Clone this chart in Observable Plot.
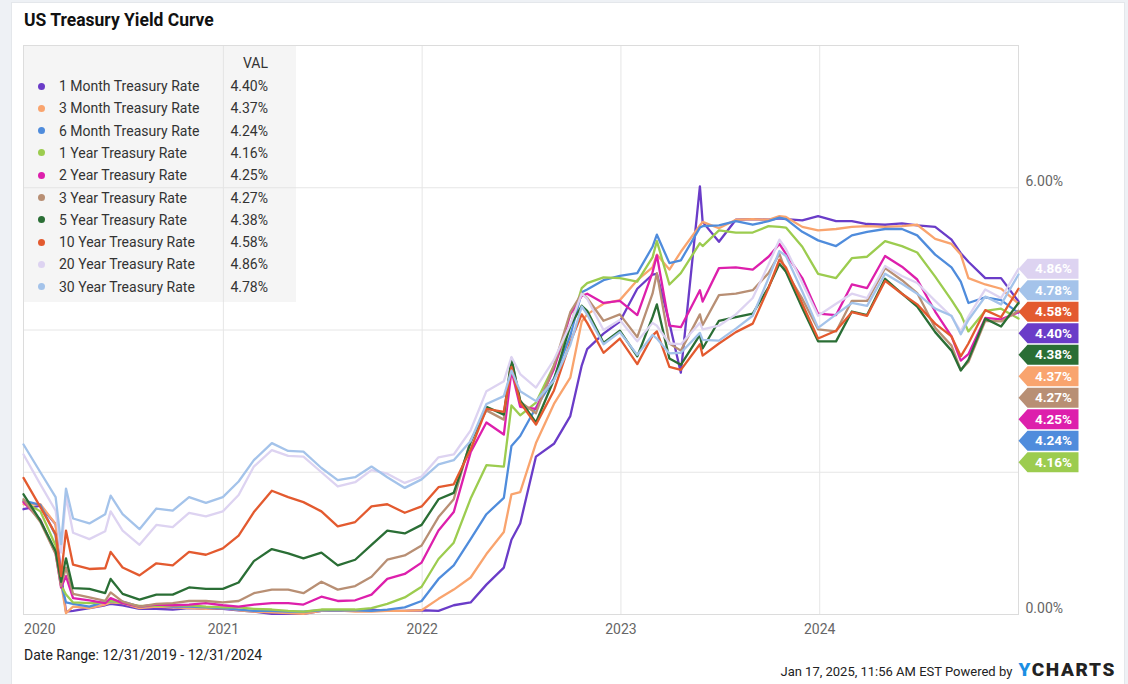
<!DOCTYPE html>
<html>
<head>
<meta charset="utf-8">
<script src="https://cdn.jsdelivr.net/npm/d3@7"></script>
<script src="https://cdn.jsdelivr.net/npm/@observablehq/plot@0.6"></script>
<style>
  html, body { margin: 0; padding: 0; }
  body { width: 1128px; height: 684px; background: #eef1f5; position: relative; overflow: hidden; font-family: Roboto, "Noto Sans", sans-serif; }
  #card { position: absolute; left: 11px; top: 2px; width: 1112px; height: 700px; background: #fff; border: 1px solid #e4e7eb; }
  #title { position: absolute; left: 24px; top: 10px; font-size: 17.5px; font-weight: 700; color: #111; }
  #chart { position: absolute; left: 0; top: 0; }
  #legend { position: absolute; left: 23px; top: 45px; width: 273px; height: 257px; background: rgba(225,225,225,0.32); font-size: 14px; color: #333; }
  .lrow { position: absolute; left: 0; width: 273px; height: 20px; line-height: 20px; }
  .ldot { position: absolute; left: 14.5px; top: 6.5px; width: 7px; height: 7px; border-radius: 50%; }
  .lname { position: absolute; left: 36px; }
  .lval { position: absolute; right: 28px; }
  #range { position: absolute; left: 24px; top: 647px; font-size: 14px; color: #222; }
  #stamp { position: absolute; right: 12px; top: 658px; font-size: 13px; color: #222; white-space: nowrap; }
  #logo { font-weight: 900; font-size: 19px; letter-spacing: 1.6px; color: #222; margin-left: 3px; }
  #logo span { color: #1c8fe3; }
</style>
</head>
<body>
<div id="card"></div>
<div id="title">US Treasury Yield Curve</div>
<div id="chart"></div>
<div id="legend"></div>
<div id="range">Date Range: 12/31/2019 - 12/31/2024</div>
<div id="stamp">Jan 17, 2025, 11:56 AM EST Powered by <span id="logo"><span>Y</span>CHARTS</span></div>
<script>
// ---------- data ----------
const dates = [
  "2019-12-31","2020-01-31","2020-02-28","2020-03-09","2020-03-18","2020-03-31","2020-04-30","2020-05-29","2020-06-08","2020-06-30","2020-07-31","2020-08-31","2020-09-30","2020-10-30","2020-11-30","2020-12-31",
  "2021-01-29","2021-02-26","2021-03-31","2021-04-30","2021-05-28","2021-06-30","2021-07-30","2021-08-31","2021-09-30","2021-10-29","2021-11-30","2021-12-31",
  "2022-01-31","2022-02-28","2022-03-31","2022-04-29","2022-05-31","2022-06-14","2022-06-30","2022-07-29","2022-08-31","2022-09-30","2022-10-21","2022-10-31","2022-11-30","2022-12-30",
  "2023-01-31","2023-02-28","2023-03-08","2023-03-31","2023-04-21","2023-05-26","2023-05-31","2023-06-30","2023-07-31","2023-08-31","2023-09-29","2023-10-19","2023-10-31","2023-11-30","2023-12-29",
  "2024-01-31","2024-02-29","2024-03-28","2024-04-30","2024-05-31","2024-06-28","2024-07-31","2024-08-30","2024-09-16","2024-09-30","2024-10-31","2024-11-29","2024-12-31"
];

const seriesNames = ["1 Month Treasury Rate","3 Month Treasury Rate","6 Month Treasury Rate","1 Year Treasury Rate","2 Year Treasury Rate","3 Year Treasury Rate","5 Year Treasury Rate","10 Year Treasury Rate","20 Year Treasury Rate","30 Year Treasury Rate"];
const seriesColors = ["#6a3cc8","#f9a46e","#4f8cdc","#9ccc4f","#dd1fac","#b88f74","#2a6e35","#e35a2f","#ddd3f1","#a4c3ea"];

const rate1M = [1.48,1.53,1.27,0.57,0.04,0.05,0.09,0.13,0.15,0.13,0.08,0.08,0.07,0.09,0.08,0.08,
  0.06,0.04,0.01,0.01,0.01,0.05,0.05,0.05,0.07,0.05,0.05,0.06,
  0.05,0.13,0.17,0.42,0.66,1.05,1.28,2.22,2.40,2.79,3.50,3.73,3.95,4.12,
  4.58,4.78,4.79,4.10,3.40,6.02,5.52,5.24,5.55,5.56,5.55,5.57,5.56,5.54,5.60,
  5.53,5.53,5.49,5.48,5.50,5.47,5.45,5.27,5.08,4.96,4.73,4.73,4.40];
const rate3M = [1.55,1.55,1.27,0.45,0.02,0.11,0.09,0.14,0.17,0.16,0.09,0.11,0.10,0.09,0.08,0.09,
  0.06,0.04,0.03,0.02,0.01,0.05,0.06,0.04,0.04,0.05,0.05,0.06,
  0.22,0.35,0.52,0.85,1.16,1.69,1.72,2.41,2.96,3.33,4.12,4.22,4.37,4.42,
  4.70,4.88,5.06,4.85,5.10,5.47,5.52,5.43,5.55,5.56,5.55,5.60,5.59,5.45,5.40,
  5.42,5.45,5.46,5.45,5.46,5.48,5.28,5.21,5.06,4.73,4.64,4.58,4.37];
const rate6M = [1.60,1.54,1.11,0.43,0.17,0.15,0.11,0.18,0.19,0.18,0.11,0.13,0.11,0.11,0.10,0.09,
  0.07,0.05,0.05,0.04,0.04,0.06,0.06,0.06,0.05,0.07,0.10,0.19,
  0.50,0.69,1.06,1.41,1.64,2.37,2.51,2.91,3.32,3.92,4.53,4.57,4.70,4.76,
  4.80,5.17,5.34,4.94,4.98,5.44,5.46,5.47,5.53,5.48,5.53,5.58,5.56,5.38,5.26,
  5.18,5.33,5.38,5.42,5.42,5.33,5.06,4.88,4.68,4.38,4.46,4.42,4.24];
const rate1Y = [1.59,1.45,0.97,0.41,0.28,0.17,0.16,0.17,0.19,0.16,0.12,0.12,0.12,0.13,0.11,0.10,
  0.10,0.08,0.07,0.05,0.04,0.07,0.07,0.07,0.09,0.15,0.24,0.39,
  0.78,1.01,1.63,2.10,2.08,2.94,2.80,2.98,3.50,4.05,4.59,4.66,4.74,4.73,
  4.68,5.02,5.25,4.64,4.80,5.22,5.18,5.40,5.37,5.37,5.46,5.45,5.44,5.17,4.79,
  4.73,5.01,5.03,5.25,5.18,5.09,4.75,4.42,4.22,3.98,4.27,4.30,4.16];
const rate2Y = [1.58,1.33,0.86,0.38,0.54,0.23,0.20,0.16,0.23,0.16,0.11,0.14,0.13,0.14,0.16,0.13,
  0.11,0.14,0.16,0.16,0.14,0.25,0.19,0.20,0.28,0.50,0.57,0.73,
  1.18,1.44,2.28,2.70,2.53,3.43,2.92,2.89,3.45,4.22,4.48,4.51,4.38,4.41,
  4.21,4.81,5.05,4.06,4.04,4.56,4.40,4.87,4.88,4.85,5.03,5.21,5.07,4.73,4.23,
  4.21,4.64,4.59,5.04,4.89,4.71,4.26,3.91,3.57,3.66,4.17,4.15,4.25];
const rate3Y = [1.62,1.30,0.85,0.40,0.66,0.29,0.24,0.19,0.31,0.18,0.11,0.15,0.16,0.19,0.19,0.17,
  0.19,0.30,0.35,0.35,0.30,0.46,0.35,0.40,0.53,0.77,0.83,0.97,
  1.37,1.62,2.45,2.87,2.74,3.59,2.99,2.83,3.50,4.25,4.51,4.45,4.13,4.22,
  3.90,4.51,4.80,3.81,3.71,4.22,4.07,4.49,4.51,4.56,4.80,5.07,4.82,4.44,4.01,
  3.98,4.41,4.41,4.87,4.70,4.52,4.03,3.78,3.44,3.55,4.13,4.12,4.27];
const rate5Y = [1.69,1.32,0.89,0.46,0.79,0.37,0.36,0.30,0.50,0.29,0.21,0.28,0.28,0.38,0.36,0.36,
  0.45,0.75,0.92,0.86,0.79,0.87,0.69,0.77,0.98,1.18,1.14,1.26,
  1.62,1.71,2.42,2.92,2.81,3.60,3.01,2.70,3.30,4.06,4.34,4.27,3.82,3.99,
  3.63,4.18,4.36,3.60,3.51,3.93,3.74,4.13,4.18,4.23,4.60,4.93,4.82,4.31,3.84,
  3.84,4.26,4.21,4.72,4.51,4.33,3.97,3.71,3.43,3.58,4.16,4.05,4.38];
const rate10Y = [1.92,1.51,1.13,0.54,1.18,0.70,0.64,0.65,0.88,0.66,0.55,0.72,0.69,0.88,0.84,0.93,
  1.11,1.44,1.74,1.65,1.58,1.45,1.24,1.30,1.52,1.55,1.43,1.52,
  1.79,1.83,2.32,2.89,2.85,3.48,2.98,2.67,3.15,3.83,4.22,4.10,3.68,3.88,
  3.52,3.92,3.98,3.48,3.44,3.80,3.64,3.81,3.97,4.09,4.59,4.99,4.88,4.37,3.88,
  3.99,4.25,4.20,4.69,4.51,4.36,4.09,3.91,3.63,3.81,4.28,4.18,4.58];
const rate20Y = [2.25,1.83,1.46,0.87,1.66,1.15,1.06,1.17,1.45,1.18,0.98,1.26,1.23,1.43,1.38,1.45,
  1.68,2.08,2.31,2.23,2.22,2.00,1.80,1.86,2.03,1.98,1.85,1.94,
  2.21,2.25,2.59,3.14,3.28,3.62,3.38,3.19,3.58,4.08,4.51,4.44,4.00,4.14,
  3.84,4.10,4.06,3.81,3.80,4.10,4.01,4.06,4.22,4.45,4.92,5.27,5.14,4.66,4.20,
  4.37,4.51,4.45,4.90,4.76,4.66,4.41,4.19,3.98,4.19,4.57,4.45,4.86];
const rate30Y = [2.39,2.00,1.65,0.99,1.77,1.35,1.28,1.41,1.67,1.41,1.20,1.49,1.46,1.65,1.57,1.65,
  1.87,2.17,2.41,2.30,2.29,2.06,1.89,1.93,2.08,1.93,1.78,1.90,
  2.11,2.17,2.44,2.96,3.07,3.43,3.14,3.00,3.29,3.79,4.33,4.22,3.80,3.97,
  3.65,3.93,3.88,3.67,3.68,3.96,3.86,3.85,4.02,4.20,4.73,5.11,5.04,4.54,4.03,
  4.22,4.38,4.34,4.79,4.65,4.51,4.30,4.20,3.94,4.14,4.47,4.36,4.78];

const seriesValues = [rate1M, rate3M, rate6M, rate1Y, rate2Y, rate3Y, rate5Y, rate10Y, rate20Y, rate30Y];
const yTickValues = [0, 6];
const xTickYears = ["2020-01-01","2021-01-01","2022-01-01","2023-01-01","2024-01-01"];

// ---------- build ----------
const parse = d3.utcParse("%Y-%m-%d");
const dateObjs = dates.map(parse);
const series = seriesNames.map((name, i) => ({
  name, color: seriesColors[i],
  data: dateObjs.map((d, j) => ({date: d, value: seriesValues[i][j]})),
  last: seriesValues[i][seriesValues[i].length - 1]
}));

// label dodge for end tags (in value units)
const pxPerUnit = 569 / 8;
const gap = 21.5 / pxPerUnit;
const tags = series.map(s => ({name: s.name, color: s.color, value: s.last, date: dateObjs[dateObjs.length - 1]}))
  .sort((a, b) => b.value - a.value);
tags.forEach((t, i) => { t.pos = i === 0 ? t.value : Math.min(t.value, tags[i - 1].pos - gap); });

const tagSymbol = {
  draw(ctx) {
    ctx.moveTo(0, 0);
    ctx.lineTo(9, -10);
    ctx.lineTo(60, -10);
    ctx.lineTo(60, 10);
    ctx.lineTo(9, 10);
    ctx.closePath();
  }
};

const xTicks = xTickYears.map(parse);
const fmtPct = d => d.toFixed(2) + "%";

const chart = Plot.plot({
  width: 1128,
  height: 645,
  marginLeft: 23,
  marginRight: 110,
  marginTop: 45,
  marginBottom: 31,
  style: {background: "transparent", fontFamily: "Roboto, sans-serif", fontSize: "14px"},
  x: {type: "utc", domain: [parse("2019-12-31"), parse("2024-12-31")]},
  y: {domain: [0, 8]},
  marks: [
    Plot.gridX(xTicks.slice(1), {stroke: "#e6e6e6", strokeOpacity: 1}),
    Plot.gridY([2, 4, 6], {stroke: "#e6e6e6", strokeOpacity: 1}),
    Plot.frame({stroke: "#dcdcdc"}),
    ...series.map(s => Plot.lineY(s.data, {x: "date", y: "value", stroke: s.color, strokeWidth: 2.3, strokeLinejoin: "round"})),
    Plot.axisX({ticks: xTicks.slice(0, 1), tickFormat: "%Y", tickSize: 0, tickPadding: 10, textAnchor: "start", fill: "#666", fontSize: 14}),
    Plot.axisX({ticks: xTicks.slice(1), tickFormat: "%Y", tickSize: 0, tickPadding: 10, fill: "#666", fontSize: 14}),
    Plot.axisY({anchor: "right", ticks: yTickValues, tickFormat: fmtPct, tickSize: 0, tickPadding: 7, dy: -6, fill: "#666", fontSize: 14}),
    ...tags.flatMap(t => [
      Plot.dot([t], {x: "date", y: "pos", symbol: tagSymbol, fill: t.color, stroke: "none", r: 5}),
      Plot.text([t], {x: "date", y: "pos", text: d => fmtPct(d.value), dx: 35, fill: "white", fontWeight: 700, fontSize: 13.5})
    ])
  ]
});
document.getElementById("chart").appendChild(chart);

// legend overlay
const legend = document.getElementById("legend");
const head = document.createElement("div");
head.className = "lrow";
head.style.top = (63 - 45 - 10) + "px";
head.innerHTML = '<span class="lval">VAL</span>';
legend.appendChild(head);
series.forEach((s, i) => {
  const row = document.createElement("div");
  row.className = "lrow";
  row.style.top = (86 + i * 22.3 - 45 - 10) + "px";
  row.innerHTML = `<span class="ldot" style="background:${s.color}"></span><span class="lname">${s.name}</span><span class="lval">${s.last.toFixed(2)}%</span>`;
  legend.appendChild(row);
});
</script>
</body>
</html>
